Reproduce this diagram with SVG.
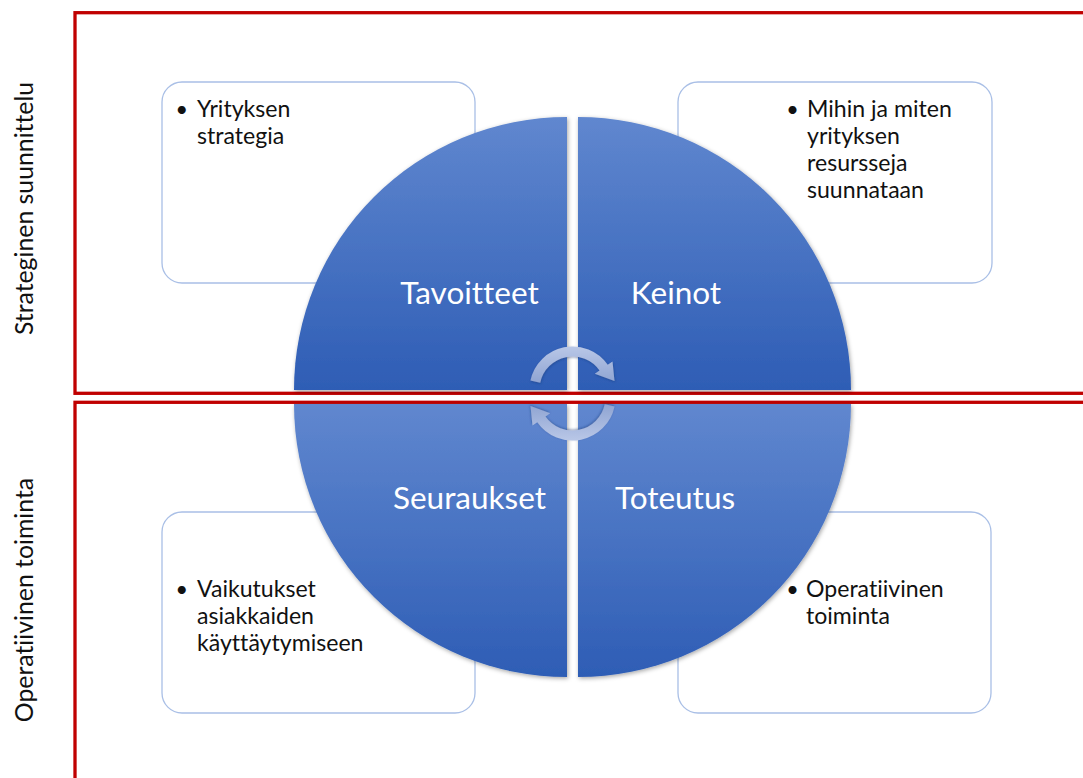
<svg xmlns="http://www.w3.org/2000/svg" width="1083" height="778" viewBox="0 0 1083 778">
<defs>
<linearGradient id="gq" x1="0" y1="0" x2="0" y2="1">
<stop offset="0" stop-color="#6087cf"/>
<stop offset="1" stop-color="#2e5db5"/>
</linearGradient>
<linearGradient id="ga" x1="0" y1="0" x2="0" y2="1">
<stop offset="0" stop-color="#b9c7e7"/>
<stop offset="1" stop-color="#8fa4d2"/>
</linearGradient>
<filter id="sh" x="-10%" y="-10%" width="120%" height="120%">
<feDropShadow dx="1" dy="1.5" stdDeviation="2" flood-color="#000" flood-opacity="0.35"/>
</filter>
<filter id="sh2" x="-20%" y="-20%" width="140%" height="140%">
<feDropShadow dx="0.5" dy="1" stdDeviation="1.2" flood-color="#1a3070" flood-opacity="0.45"/>
</filter>
</defs>
<style>
text{font-variant-ligatures:none}
.frame{fill:none;stroke:#c00000;stroke-width:3.3}
.box{fill:#fff;stroke:#a9bfe6;stroke-width:1.3}
.bt{font-family:Lato,"Liberation Sans",sans-serif;font-size:23.1px;fill:#111}
.bu{font-family:Lato,"Liberation Sans",sans-serif;font-size:21.6px;fill:#111;text-anchor:middle}
.qt{font-family:Lato,"Liberation Sans",sans-serif;font-size:31.5px;fill:#fff;text-anchor:middle}
.vt{font-family:Lato,"Liberation Sans",sans-serif;font-size:24.8px;fill:#111;text-anchor:middle}
.quad{fill:url(#gq);filter:url(#sh)}
.arr{fill:url(#ga);filter:url(#sh2)}
</style>
<rect width="1083" height="778" fill="#fff"/>
<g id="frames">
<rect class="frame" x="75" y="12.7" width="1030" height="380.6"/>
<rect class="frame" x="75" y="402.3" width="1030" height="420"/>
</g>
<g id="label-strateginen">
<text class="vt" transform="translate(33,208.5) rotate(-90)">Strateginen suunnittelu</text>
</g>
<g id="label-operatiivinen">
<text class="vt" transform="translate(33,600) rotate(-90)">Operatiivinen toiminta</text>
</g>
<g id="box-yrityksen">
<rect class="box" x="162" y="82" width="313" height="201" rx="20"/>
<text class="bu" x="181.7" y="116.5">•</text>
<text class="bt" x="197" y="116.5">Yrityksen</text>
<text class="bt" x="197" y="143.8">strategia</text>
</g>
<g id="box-mihin">
<rect class="box" x="678" y="82" width="314" height="201" rx="20"/>
<text class="bu" x="792.5" y="116.5">•</text>
<text class="bt" x="807" y="116.5">Mihin ja miten</text>
<text class="bt" x="807" y="143.8">yrityksen</text>
<text class="bt" x="807" y="171.1">resursseja</text>
<text class="bt" x="807" y="198.4">suunnataan</text>
</g>
<g id="box-vaikutukset">
<rect class="box" x="162" y="512" width="313" height="201" rx="20"/>
<text class="bu" x="181.7" y="596.5">•</text>
<text class="bt" x="197" y="596.5">Vaikutukset</text>
<text class="bt" x="197" y="623.8">asiakkaiden</text>
<text class="bt" x="197" y="651.1">käyttäytymiseen</text>
</g>
<g id="box-operatiivinen">
<rect class="box" x="678" y="512" width="313" height="201" rx="20"/>
<text class="bu" x="792.5" y="596.5">•</text>
<text class="bt" x="806" y="596.5">Operatiivinen</text>
<text class="bt" x="806" y="623.8">toiminta</text>
</g>
<g id="quad-tavoitteet">
<path class="quad" d="M567,390 L294,390 A273,273 0 0 1 567,117 Z"/>
<text class="qt" x="469.5" y="304">Tavoitteet</text>
</g>
<g id="quad-keinot">
<path class="quad" d="M578,390 L578,117 A273,273 0 0 1 851,390 Z"/>
<text class="qt" x="676" y="304">Keinot</text>
</g>
<g id="quad-seuraukset">
<path class="quad" d="M567,404 L567,677 A273,273 0 0 1 294,404 Z"/>
<text class="qt" x="469.5" y="509">Seuraukset</text>
</g>
<g id="quad-toteutus">
<path class="quad" d="M578,404 L851,404 A273,273 0 0 1 578,677 Z"/>
<text class="qt" x="675" y="509">Toteutus</text>
</g>
<g id="connectors">
<path class="arr" d="M530.45,380.56 A43,43 0 0 1 607.72,364.82 L612.5,361.5 L614.5,381 L594.8,373.8 L599.53,370.56 A33,33 0 0 0 540.23,382.64 Z"/>
<path class="arr" transform="rotate(180 572.5 393.5)" d="M530.45,380.56 A43,43 0 0 1 607.72,364.82 L612.5,361.5 L614.5,381 L594.8,373.8 L599.53,370.56 A33,33 0 0 0 540.23,382.64 Z"/>
</g>
</svg>
